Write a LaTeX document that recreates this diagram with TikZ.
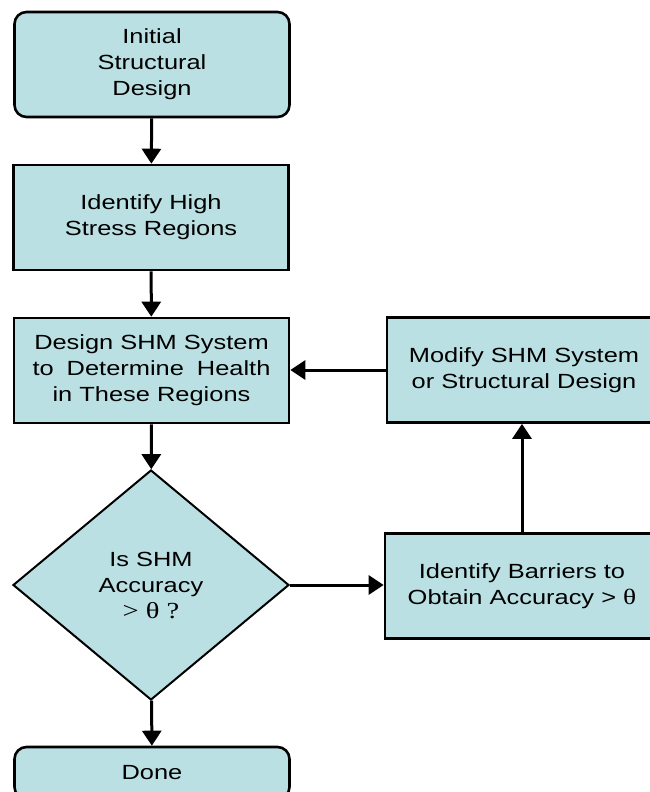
\documentclass[tikz,border=0pt]{standalone}
\usepackage{fontspec}
\setmainfont[FakeStretch=1.24]{Liberation Sans}
\newfontfamily\thetafont[FakeStretch=1.24]{Liberation Serif}
\usetikzlibrary{shapes.geometric,arrows.meta}
\definecolor{boxfill}{RGB}{187,224,227}

\begin{document}
\begin{tikzpicture}[x=1pt, y=-1pt, >={Triangle[width=19pt,length=15pt]},
  every node/.style={font=\fontsize{20.5}{26}\selectfont, align=center},
  box/.style={draw=black, line width=2.6pt, fill=boxfill, minimum width=275pt, minimum height=105pt, inner sep=0pt},
  roundbox/.style={box, rounded corners=12pt},
  decision/.style={diamond, draw=black, line width=2pt, fill=boxfill, minimum width=276pt, minimum height=230pt, inner sep=0pt},
  flow/.style={->, line width=3pt}]
  \useasboundingbox (0,0) rectangle (649,792);
  % Main column
  \node[roundbox] (init) at (152,64.5) {Initial\\Structural\\Design};
  \node[box] (high) at (151,217.5) {Identify High\\Stress Regions};
  \node[box] (design) at (151.5,370.5) {Design SHM System\\to\hspace{13pt}Determine\hspace{13pt}Health\\in These Regions};
  \node[decision] (accuracy) at (151,585) {Is SHM\\Accuracy\\{\thetafont\fontsize{23}{26}\selectfont > θ ?}};
  \node[roundbox, minimum height=52pt] (done) at (152,773) {Done};
  % Right column
  \node[box, minimum width=274pt] (barriers) at (522,586) {Identify Barriers to\\Obtain Accuracy > {\thetafont\fontsize{22}{26}\selectfont θ}};
  \node[box, minimum width=274pt] (modify) at (524,370) {Modify SHM System\\or Structural Design};
  % Connectors
  \draw[flow] (init) -- (high);
  \draw[flow] (high) -- (design);
  \draw[flow] (design) -- (accuracy);
  \draw[flow] (accuracy) -- (done);
  \draw[flow] (accuracy.east) -- (barriers.west |- accuracy.east);
  \draw[flow] (barriers.north) -- (barriers.north |- modify.south);
  \draw[flow] (modify.west) -- (design.east |- modify.west);
\end{tikzpicture}
\end{document}
